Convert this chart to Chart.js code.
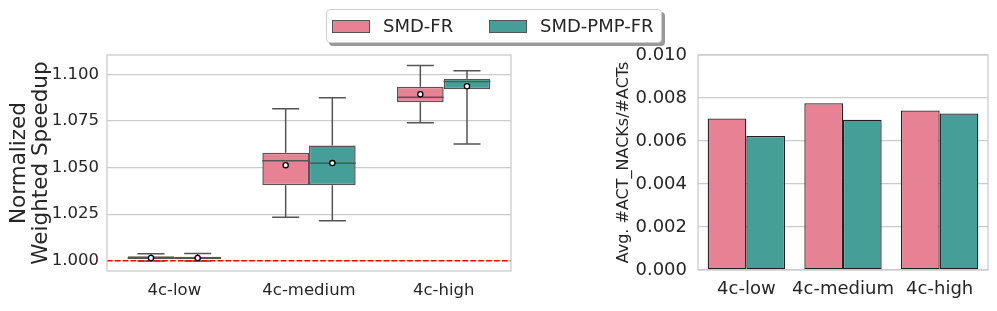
<!DOCTYPE html>
<html>
<head>
<meta charset="utf-8">
<script src="https://cdn.jsdelivr.net/npm/chart.js@4.4.0/dist/chart.umd.min.js"></script>
<style>
  body { margin:0; background:#fff; width:997px; height:311px; overflow:hidden; position:relative; font-family:"DejaVu Sans", sans-serif; color:#262626; }
  canvas { position:absolute; top:0; }
  #legend { position:absolute; left:326px; top:9px; width:334px; height:32px; border:1px solid #cfcfcf; border-radius:4px; background:#fff; box-shadow:3px 3px 0 #9a9a9a; font-size:18px; }
  .item { position:absolute; top:0; height:32px; line-height:32px; }
  .swatch { position:absolute; top:10px; width:36px; height:11px; border:1px solid #555; }
</style>
</head>
<body>
<canvas id="speedup-canvas" width="560" height="311" style="left:0"></canvas>
<canvas id="nack-canvas" width="407" height="311" style="left:590px"></canvas>
<div id="legend">
  <div class="swatch" style="left:5px;background:#e68294"></div>
  <div class="item" style="left:56px">SMD-FR</div>
  <div class="swatch" style="left:162px;background:#459e97"></div>
  <div class="item" style="left:213px">SMD-PMP-FR</div>
</div>
<script>
let categories   = ['4c-low', '4c-medium', '4c-high'];
let seriesNames  = ['SMD-FR', 'SMD-PMP-FR'];
let seriesColors = ['#e68294', '#459e97'];

// box plot stats
let frMin     = [0.9998, 1.0234, 1.0740];
let frQ1      = [1.0009, 1.0405, 1.0850];
let frMedian  = [1.0015, 1.0537, 1.0877];
let frQ3      = [1.0024, 1.0579, 1.0934];
let frMax     = [1.0038, 1.0815, 1.1048];
let frMean    = [1.0015, 1.0513, 1.0893];

let pmpMin    = [0.9998, 1.0215, 1.0626];
let pmpQ1     = [1.0008, 1.0405, 1.0920];
let pmpMedian = [1.0014, 1.0523, 1.0962];
let pmpQ3     = [1.0022, 1.0619, 1.0976];
let pmpMax    = [1.0039, 1.0874, 1.1019];
let pmpMean   = [1.0015, 1.0524, 1.0936];

let speedupTicks = [1.000, 1.025, 1.050, 1.075, 1.100];
let baseline     = 1.0;

// right panel
let frNackRatio  = [0.00705, 0.00776, 0.00742];
let pmpNackRatio = [0.00623, 0.00699, 0.00728];
let nackTicks    = [0, 0.002, 0.004, 0.006, 0.008, 0.010];

Chart.defaults.font.family = '"DejaVu Sans", sans-serif';
Chart.defaults.color = '#262626';

let boxStats = [
  {min:frMin,  q1:frQ1,  med:frMedian,  q3:frQ3,  max:frMax,  mean:frMean},
  {min:pmpMin, q1:pmpQ1, med:pmpMedian, q3:pmpQ3, max:pmpMax, mean:pmpMean}
];

const frame = {
  id:'frame',
  afterDraw(chart){
    const a = chart.chartArea, ctx = chart.ctx;
    ctx.save();
    ctx.strokeStyle = '#cccccc';
    ctx.lineWidth = 1.3;
    ctx.strokeRect(a.left, a.top, a.right - a.left, a.bottom - a.top);
    ctx.restore();
  }
};

const boxExtras = {
  id:'boxExtras',
  afterDatasetsDraw(chart){
    const ctx = chart.ctx, y = chart.scales.y, a = chart.chartArea;
    ctx.save();
    ctx.strokeStyle = '#555555';
    ctx.lineWidth = 1.5;
    boxStats.forEach((s, d) => {
      chart.getDatasetMeta(d).data.forEach((bar, i) => {
        const x = bar.x, half = bar.width / 2, cap = bar.width * 0.29;
        const pMax = y.getPixelForValue(s.max[i]), pMin = y.getPixelForValue(s.min[i]);
        ctx.beginPath();
        ctx.moveTo(x, y.getPixelForValue(s.q3[i])); ctx.lineTo(x, pMax);
        ctx.moveTo(x - cap, pMax); ctx.lineTo(x + cap, pMax);
        ctx.moveTo(x, y.getPixelForValue(s.q1[i])); ctx.lineTo(x, pMin);
        ctx.moveTo(x - cap, pMin); ctx.lineTo(x + cap, pMin);
        ctx.moveTo(x - half, y.getPixelForValue(s.med[i])); ctx.lineTo(x + half, y.getPixelForValue(s.med[i]));
        ctx.stroke();
      });
    });
    // red reference line
    const by = y.getPixelForValue(baseline);
    ctx.beginPath();
    ctx.setLineDash([5.5, 2.4]);
    ctx.strokeStyle = '#ff0000';
    ctx.moveTo(a.left, by); ctx.lineTo(a.right, by);
    ctx.stroke();
    ctx.setLineDash([]);
    // means
    boxStats.forEach((s, d) => {
      chart.getDatasetMeta(d).data.forEach((bar, i) => {
        ctx.beginPath();
        ctx.arc(bar.x, y.getPixelForValue(s.mean[i]), 2.6, 0, 2 * Math.PI);
        ctx.fillStyle = '#ffffff';
        ctx.fill();
        ctx.strokeStyle = '#000000';
        ctx.lineWidth = 1.3;
        ctx.stroke();
      });
    });
    ctx.restore();
  }
};

new Chart(document.getElementById('speedup-canvas'), {
  type:'bar',
  data:{
    labels:categories,
    datasets:[
      {label:seriesNames[0], data:frQ1.map((q, i) => [q, frQ3[i]]),
       backgroundColor:seriesColors[0], borderColor:'#555555', borderWidth:1.5, borderSkipped:false},
      {label:seriesNames[1], data:pmpQ1.map((q, i) => [q, pmpQ3[i]]),
       backgroundColor:seriesColors[1], borderColor:'#555555', borderWidth:1.5, borderSkipped:false}
    ]
  },
  options:{
    responsive:false,
    animation:false,
    categoryPercentage:0.693,
    barPercentage:1.0,
    layout:{padding:{top:55, right:49, left:0, bottom:0}},
    plugins:{legend:{display:false}, tooltip:{enabled:false}},
    scales:{
      x:{
        grid:{display:false, drawTicks:false},
        border:{display:false},
        ticks:{font:{size:16.5}, padding:10, maxRotation:0, autoSkip:false},
        afterFit(scale){ scale.height = 40; }
      },
      y:{
        min:0.9945, max:1.1104,
        grid:{color:'#cccccc', lineWidth:1.3, drawTicks:false},
        border:{display:false},
        afterBuildTicks(scale){ scale.ticks = speedupTicks.map(v => ({value:v})); },
        ticks:{font:{size:16.5}, padding:8, callback:v => Number(v).toFixed(3)},
        title:{display:true, text:['Normalized', 'Weighted Speedup'], font:{size:21.5, lineHeight:1.0}, padding:{top:9, bottom:0}},
        afterFit(scale){ scale.width = 107; }
      }
    }
  },
  plugins:[boxExtras, frame]
});

new Chart(document.getElementById('nack-canvas'), {
  type:'bar',
  data:{
    labels:categories,
    datasets:[
      {label:seriesNames[0], data:frNackRatio, backgroundColor:seriesColors[0], borderColor:'#222222', borderWidth:1.3, borderSkipped:false},
      {label:seriesNames[1], data:pmpNackRatio, backgroundColor:seriesColors[1], borderColor:'#222222', borderWidth:1.3, borderSkipped:false}
    ]
  },
  options:{
    responsive:false,
    animation:false,
    categoryPercentage:0.8,
    barPercentage:1.0,
    layout:{padding:{top:55, right:9, left:0, bottom:0}},
    plugins:{legend:{display:false}, tooltip:{enabled:false}},
    scales:{
      x:{
        grid:{display:false, drawTicks:false},
        border:{display:false},
        ticks:{font:{size:18}, padding:9, maxRotation:0, minRotation:0, autoSkip:false},
        afterFit(scale){ scale.height = 41; }
      },
      y:{
        min:0, max:0.010,
        grid:{color:'#cccccc', lineWidth:1.3, drawTicks:false},
        border:{display:false},
        afterBuildTicks(scale){ scale.ticks = nackTicks.map(v => ({value:v})); },
        ticks:{font:{size:18}, padding:11, callback:v => Number(v).toFixed(3)},
        title:{display:true, text:'Avg. #ACT_NACKs/#ACTs', font:{size:16}, padding:{top:24, bottom:0}},
        afterFit(scale){ scale.width = 108; }
      }
    }
  },
  plugins:[frame]
});
</script>
</body>
</html>
